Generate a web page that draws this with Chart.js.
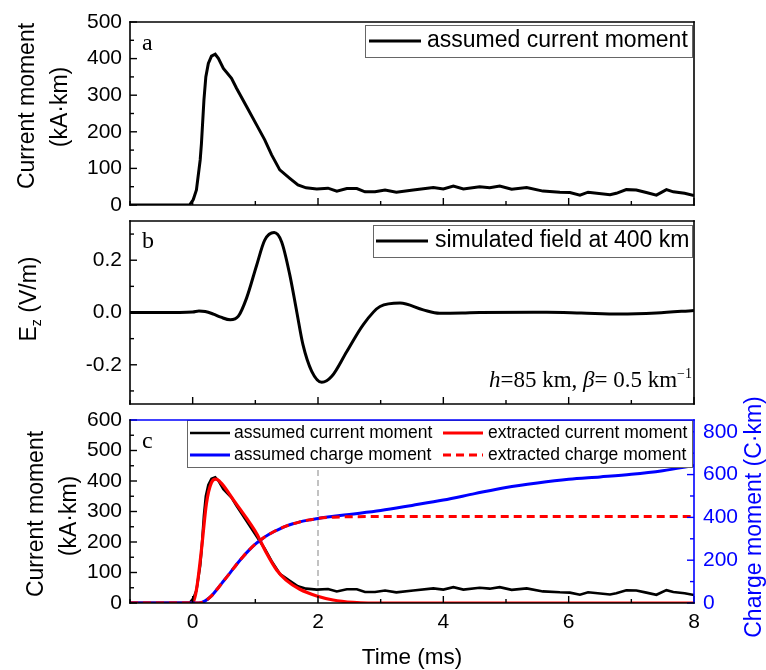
<!DOCTYPE html>
<html><head><meta charset="utf-8">
<script src="https://cdn.jsdelivr.net/npm/chart.js@4"></script>
<style>
html,body{margin:0;padding:0;background:#fff;}
#wrap{position:relative;width:766px;height:670px;overflow:hidden;background:#fff;}
canvas{position:absolute;left:0;top:0;}
</style></head><body>
<div id="wrap">
<canvas id="ca" width="766" height="670"></canvas>
<canvas id="cb" width="766" height="670"></canvas>
<canvas id="cc" width="766" height="670"></canvas>
</div>
<script>
// ---------------- data ----------------
const timeRange = [-1, 8];
const timeTicks = [0, 2, 4, 6, 8];
const timeMinor = [-1, 1, 3, 5, 7];
const markerTime = 2;

// assumed current moment (kA·km) vs time (ms)
const currentTime = [-1, -0.05, 0.01, 0.06, 0.12, 0.14, 0.18, 0.21, 0.25, 0.30, 0.36, 0.41, 0.49, 0.62, 0.70, 0.86, 1.02, 1.15, 1.26, 1.39, 1.55, 1.68, 1.81, 1.98, 2.16, 2.30, 2.46, 2.62, 2.75, 2.91, 3.07, 3.25, 3.52, 3.84, 4.00, 4.16, 4.32, 4.58, 4.74, 4.90, 5.09, 5.33, 5.59, 5.86, 6.02, 6.18, 6.31, 6.66, 6.76, 6.92, 7.08, 7.24, 7.40, 7.56, 7.67, 7.85, 8.00];
const currentValues = [0, 0, 15, 41, 123, 168, 287, 350, 387, 407, 412, 401, 373, 346, 319, 269, 219, 178, 137, 96, 73, 55, 47, 44, 46, 38, 45, 45, 36, 36, 41, 35, 41, 48, 44, 52, 44, 50, 47, 52, 43, 48, 38, 35, 34, 27, 35, 28, 32, 42, 41, 34, 27, 42, 36, 32, 26];

// simulated field at 400 km (V/m)
const fieldTime = [-1, -0.5, 0, 0.1, 0.2, 0.33, 0.45, 0.6, 0.73, 0.86, 1.02, 1.15, 1.3, 1.42, 1.55, 1.66, 1.76, 1.9, 2.06, 2.22, 2.46, 2.72, 2.99, 3.31, 3.68, 3.94, 4.3, 4.58, 5.65, 6.2, 6.81, 7.4, 8];
const fieldValues = [0, 0, 0.002, 0.006, 0.004, -0.006, -0.018, -0.028, -0.014, 0.055, 0.18, 0.277, 0.306, 0.27, 0.144, 0.004, -0.123, -0.225, -0.267, -0.244, -0.149, -0.047, 0.023, 0.036, 0.01, -0.003, -0.002, 0, 0.001, -0.002, -0.006, -0.002, 0.008];

// extracted current moment (kA·km)
const extractedCurrentTime = [-1, 0, 0.06, 0.14, 0.22, 0.30, 0.37, 0.46, 0.65, 0.86, 1.02, 1.18, 1.34, 1.49, 1.71, 1.98, 2.24, 2.56, 2.8, 3.2, 8];
const extractedCurrentValues = [0, 0, 43, 174, 327, 395, 406, 392, 338, 278, 228, 163, 108, 75, 45, 23, 10, 2, 0, 0, 0];

// assumed charge moment (C·km)
const chargeTime = [-1, 0.1, 0.2, 0.3, 0.4, 0.5, 0.6, 0.7, 0.8, 0.9, 1.0, 1.1, 1.2, 1.3, 1.4, 1.5, 1.6, 1.7, 1.8, 1.9, 2.0, 2.25, 2.5, 3.0, 3.5, 4.0, 4.5, 5.0, 5.5, 6.0, 6.5, 7.0, 7.5, 8.0];
const assumedChargeValues = [0, 0, 10, 33, 68, 105, 142, 180, 215, 247, 275, 298, 318, 334, 348, 360, 370, 378, 385, 390, 395, 405, 414, 432, 456, 481, 511, 540, 561, 578, 589, 601, 618, 642];

// extracted charge moment (C·km)
const extractedChargeTime = [-1, 0.1, 0.2, 0.3, 0.4, 0.5, 0.6, 0.7, 0.8, 0.9, 1.0, 1.1, 1.2, 1.3, 1.4, 1.5, 1.6, 1.7, 1.8, 1.9, 2.0, 2.25, 2.5, 3.0, 8.0];
const extractedChargeValues = [0, 0, 10, 33, 68, 105, 142, 180, 215, 247, 275, 298, 318, 334, 348, 360, 370, 378, 385, 390, 395, 401, 403, 404, 404];

// axis ticks
const currentTicksA = [0, 100, 200, 300, 400, 500];
const currentMinorA = [50, 150, 250, 350, 450];
const fieldTicks = [-0.2, 0, 0.2];
const fieldMinor = [-0.3, -0.1, 0.1, 0.3];
const currentTicksC = [0, 100, 200, 300, 400, 500, 600];
const currentMinorC = [50, 150, 250, 350, 450, 550];
const chargeTicks = [0, 200, 400, 600, 800];
const chargeMinor = [100, 300, 500, 700];

// ---------------- helpers ----------------
const SANS = '"Liberation Sans", Arial, Helvetica, sans-serif';
const SERIF = '"Liberation Serif", "Times New Roman", serif';
const BLUE = '#0000ff';
const RED = '#ff0000';
function pts(xs, ys) { return xs.map((x, i) => ({ x: x, y: ys[i] })); }

function xScale(showLabels, h) {
  return {
    type: 'linear', min: timeRange[0], max: timeRange[1],
    afterBuildTicks: s => { s.ticks = timeTicks.map(v => ({ value: v })); },
    afterFit: s => { s.height = h; },
    grid: { display: false, drawTicks: false }, border: { display: false },
    ticks: { display: showLabels, font: { family: SANS, size: 21 }, color: '#000', padding: 7, maxRotation: 0, minRotation: 0, autoSkip: false, callback: v => String(v) }
  };
}
function yScale(min, max, ticks, fmt, pos, width, color, pad) {
  return {
    type: 'linear', position: pos, min: min, max: max,
    afterBuildTicks: s => { s.ticks = ticks.map(v => ({ value: v })); },
    afterFit: s => { s.width = width; },
    grid: { display: false, drawTicks: false }, border: { display: false },
    ticks: { font: { family: SANS, size: 21 }, color: color, padding: pad, callback: fmt }
  };
}

const DECOR = {};
function drawRuns(ctx, runs, x, y, align) {
  let total = 0;
  runs.forEach(r => { ctx.font = r.font; r.w = ctx.measureText(r.t).width; total += r.w; });
  let cx = align === 'center' ? x - total / 2 : (align === 'right' ? x - total : x);
  ctx.textAlign = 'left';
  runs.forEach(r => { ctx.font = r.font; ctx.fillStyle = r.color || '#000'; ctx.fillText(r.t, cx, y + (r.dy || 0)); cx += r.w; });
}
const decor = {
  id: 'decor',
  beforeDatasetsDraw(chart) {
    const cfg = DECOR[chart.canvas.id]; if (!cfg || !cfg.vline) return;
    const ctx = chart.ctx, a = chart.chartArea;
    const p = chart.scales.x.getPixelForValue(cfg.vline.value);
    ctx.save();
    ctx.strokeStyle = '#9a9a9a'; ctx.lineWidth = 1.2; ctx.setLineDash([6, 4]);
    ctx.beginPath(); ctx.moveTo(p, a.top); ctx.lineTo(p, a.bottom); ctx.stroke();
    ctx.restore();
  },
  afterDraw(chart) {
    const cfg = DECOR[chart.canvas.id]; if (!cfg) return;
    const ctx = chart.ctx, a = chart.chartArea;
    ctx.save();
    // inward ticks
    cfg.ticks.forEach(t => {
      const sc = chart.scales[t.scale];
      ctx.strokeStyle = t.color; ctx.lineWidth = 1.4;
      [[t.major, 7], [t.minor, 4]].forEach(([vals, len]) => {
        vals.forEach(v => {
          const p = sc.getPixelForValue(v);
          ctx.beginPath();
          if (t.side === 'bottom') { ctx.moveTo(p, a.bottom); ctx.lineTo(p, a.bottom - len); }
          else if (t.side === 'left') { ctx.moveTo(a.left, p); ctx.lineTo(a.left + len, p); }
          else { ctx.moveTo(a.right, p); ctx.lineTo(a.right - len, p); }
          ctx.stroke();
        });
      });
    });
    // legend
    if (cfg.legend) {
      const L = cfg.legend, b = L.box;
      ctx.fillStyle = '#fff'; ctx.fillRect(b[0], b[1], b[2] - b[0], b[3] - b[1]);
      ctx.strokeStyle = '#666'; ctx.lineWidth = 1; ctx.strokeRect(b[0] + 0.5, b[1] + 0.5, b[2] - b[0], b[3] - b[1]);
      L.items.forEach(it => {
        const ds = chart.data.datasets[it.ds];
        ctx.strokeStyle = ds.borderColor; ctx.lineWidth = ds.borderWidth;
        ctx.setLineDash(ds.borderDash || []);
        ctx.beginPath(); ctx.moveTo(it.x1, it.y); ctx.lineTo(it.x2, it.y); ctx.stroke();
        ctx.setLineDash([]);
        ctx.font = L.font; ctx.fillStyle = '#000'; ctx.textAlign = 'left'; ctx.textBaseline = 'middle';
        ctx.fillText(ds.label, it.tx, it.y);
      });
    }
    // frame
    ctx.lineWidth = 1.6; ctx.lineCap = 'square';
    const f = cfg.frame;
    [['top', a.left, a.top, a.right, a.top], ['right', a.right, a.top, a.right, a.bottom], ['left', a.left, a.top, a.left, a.bottom], ['bottom', a.left, a.bottom, a.right, a.bottom]].forEach(s => {
      ctx.strokeStyle = f[s[0]]; ctx.beginPath(); ctx.moveTo(s[1], s[2]); ctx.lineTo(s[3], s[4]); ctx.stroke();
    });
    ctx.lineCap = 'butt';
    // texts
    (cfg.texts || []).forEach(t => {
      ctx.save();
      ctx.translate(t.x, t.y);
      if (t.rotate) ctx.rotate(-Math.PI / 2);
      ctx.textBaseline = t.baseline || 'middle';
      if (t.runs) drawRuns(ctx, t.runs, 0, 0, t.align || 'center');
      else { ctx.font = t.font; ctx.fillStyle = t.color || '#000'; ctx.textAlign = t.align || 'center'; ctx.fillText(t.text, 0, 0); }
      ctx.restore();
    });
    ctx.restore();
  }
};

const common = (pad) => ({
  responsive: false, animation: false, events: [],
  layout: { padding: pad },
  plugins: { legend: { display: false }, tooltip: { enabled: false }, title: { display: false } },
  elements: { point: { radius: 0 } }
});

// ---------------- panel a ----------------
DECOR.ca = {
  frame: { top: '#000', right: '#000', left: '#000', bottom: '#000' },
  ticks: [
    { scale: 'x', side: 'bottom', major: timeTicks, minor: timeMinor, color: '#000' },
    { scale: 'y', side: 'left', major: currentTicksA, minor: currentMinorA, color: '#000' }
  ],
  legend: { box: [365, 25, 692, 57], font: '23px ' + SANS, items: [{ ds: 0, x1: 369, x2: 421, tx: 427, y: 41 }] },
  texts: [
    { text: 'a', x: 142, y: 44, font: '24px ' + SERIF, align: 'left' },
    { text: 'Current moment', x: 27.5, y: 106, rotate: true, font: '23px ' + SANS },
    { text: '(kA·km)', x: 61, y: 107, rotate: true, font: '23px ' + SANS }
  ]
};
const optA = common({ top: 22, bottom: 465, left: 0, right: 72 });
optA.scales = { x: xScale(false, 0), y: yScale(0, 500, currentTicksA, v => String(v), 'left', 130, '#000', 8) };
new Chart(document.getElementById('ca'), {
  type: 'line',
  data: { datasets: [{ label: 'assumed current moment', data: pts(currentTime, currentValues), borderColor: '#000', borderWidth: 3, tension: 0, fill: false }] },
  options: optA, plugins: [decor]
});

// ---------------- panel b ----------------
DECOR.cb = {
  frame: { top: '#000', right: '#000', left: '#000', bottom: '#000' },
  ticks: [
    { scale: 'x', side: 'bottom', major: timeTicks, minor: timeMinor, color: '#000' },
    { scale: 'y', side: 'left', major: fieldTicks, minor: fieldMinor, color: '#000' }
  ],
  legend: { box: [373, 225, 692, 257], font: '23px ' + SANS, items: [{ ds: 0, x1: 376, x2: 428, tx: 435, y: 241 }] },
  texts: [
    { text: 'b', x: 142, y: 242, font: '24px ' + SERIF, align: 'left' },
    { x: 30, y: 299, rotate: true, align: 'center', runs: [
      { t: 'E', font: '23px ' + SANS }, { t: 'z', font: '14px ' + SANS, dy: 7 }, { t: ' (V/m)', font: '23px ' + SANS }
    ] },
    { x: 692, y: 387, baseline: 'alphabetic', align: 'right', runs: [
      { t: 'h', font: 'italic 23px ' + SERIF }, { t: '=85 km, ', font: '23px ' + SERIF },
      { t: 'β', font: 'italic 23px ' + SERIF }, { t: '= 0.5 km', font: '23px ' + SERIF },
      { t: '−1', font: '14px ' + SERIF, dy: -9 }
    ] }
  ]
};
const optB = common({ top: 221, bottom: 266, left: 0, right: 72 });
optB.scales = { x: xScale(false, 0), y: yScale(-0.35, 0.35, fieldTicks, v => v.toFixed(1), 'left', 130, '#000', 8) };
new Chart(document.getElementById('cb'), {
  type: 'line',
  data: { datasets: [{ label: 'simulated field at 400 km', data: pts(fieldTime, fieldValues), borderColor: '#000', borderWidth: 3, cubicInterpolationMode: 'monotone', fill: false }] },
  options: optB, plugins: [decor]
});

// ---------------- panel c ----------------
DECOR.cc = {
  frame: { top: BLUE, right: BLUE, left: '#000', bottom: '#000' },
  vline: { value: markerTime },
  ticks: [
    { scale: 'x', side: 'bottom', major: timeTicks, minor: timeMinor, color: '#000' },
    { scale: 'y', side: 'left', major: currentTicksC, minor: currentMinorC, color: '#000' },
    { scale: 'y2', side: 'right', major: chargeTicks, minor: chargeMinor, color: BLUE }
  ],
  legend: { box: [187, 420, 692, 467], font: '17.5px ' + SANS, items: [
    { ds: 0, x1: 190, x2: 230, tx: 234, y: 433 },
    { ds: 1, x1: 443, x2: 483, tx: 488, y: 433 },
    { ds: 2, x1: 190, x2: 230, tx: 234, y: 455 },
    { ds: 3, x1: 443, x2: 483, tx: 488, y: 455 }
  ] },
  texts: [
    { text: 'c', x: 142, y: 442, font: '24px ' + SERIF, align: 'left' },
    { text: 'Current moment', x: 37, y: 514, rotate: true, font: '23px ' + SANS },
    { text: '(kA·km)', x: 70, y: 516, rotate: true, font: '23px ' + SANS },
    { text: 'Charge moment (C·km)', x: 755, y: 517, rotate: true, font: '23px ' + SANS, color: BLUE },
    { text: 'Time (ms)', x: 412, y: 658, font: '22.5px ' + SANS }
  ]
};
const optC = common({ top: 420, bottom: 27, left: 0, right: 0 });
optC.scales = {
  x: xScale(true, 40),
  y: yScale(0, 600, currentTicksC, v => String(v), 'left', 130, '#000', 8),
  y2: yScale(0, 855, chargeTicks, v => String(v), 'right', 72, BLUE, 9)
};
new Chart(document.getElementById('cc'), {
  type: 'line',
  data: { datasets: [
    { label: 'assumed current moment', data: pts(currentTime, currentValues), yAxisID: 'y', borderColor: '#000', borderWidth: 2.6, tension: 0, order: 4, fill: false },
    { label: 'extracted current moment', data: pts(extractedCurrentTime, extractedCurrentValues), yAxisID: 'y', borderColor: RED, borderWidth: 3.2, cubicInterpolationMode: 'monotone', order: 3, fill: false },
    { label: 'assumed charge moment', data: pts(chargeTime, assumedChargeValues), yAxisID: 'y2', borderColor: BLUE, borderWidth: 3, cubicInterpolationMode: 'monotone', order: 2, fill: false },
    { label: 'extracted charge moment', data: pts(extractedChargeTime, extractedChargeValues), yAxisID: 'y2', borderColor: RED, borderWidth: 3, borderDash: [8, 5], cubicInterpolationMode: 'monotone', order: 1, fill: false }
  ] },
  options: optC, plugins: [decor]
});
</script>
</body></html>
